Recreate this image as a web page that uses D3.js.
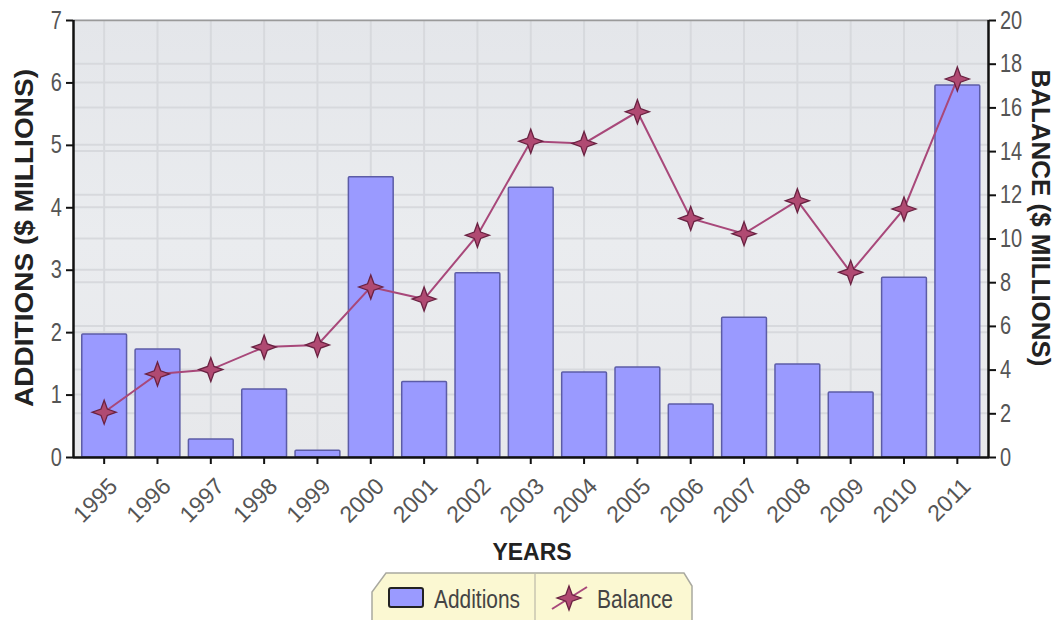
<!DOCTYPE html>
<html><head><meta charset="utf-8">
<script src="https://cdn.jsdelivr.net/npm/d3@7"></script>
<style>body{margin:0;background:#fff}svg{display:block}</style>
</head><body>
<script>
const years = ["1995","1996","1997","1998","1999","2000","2001","2002","2003","2004","2005","2006","2007","2008","2009","2010","2011"];
const additions = [1.97,1.73,0.29,1.09,0.11,4.49,1.21,2.95,4.32,1.36,1.44,0.85,2.24,1.49,1.04,2.88,5.96];
const balance = [2.05,3.8,4.0,5.03,5.13,7.78,7.23,10.15,14.45,14.35,15.8,10.92,10.22,11.73,8.45,11.35,17.3];
const leftTicks = [0,1,2,3,4,5,6,7];
const rightTicks = [0,2,4,6,8,10,12,14,16,18,20];

const W=1058,H=620;
const L=73,R=989,T=20,B=457;
const svg=d3.select("body").append("svg").attr("width",W).attr("height",H);
const font="'Liberation Sans', Arial, sans-serif";

function squeeze(sel,k){
  sel.each(function(){const w=this.getComputedTextLength();d3.select(this).attr("textLength",w*k).attr("lengthAdjust","spacingAndGlyphs");});
}

const x=d3.scaleBand().domain(years).range([77.5,984]).paddingInner(0.16).paddingOuter(0.08);
const yL=d3.scaleLinear().domain([0,7]).range([B,T]);
const yR=d3.scaleLinear().domain([0,20]).range([B,T]);

// plot background
const defs=svg.append("defs");
const g1=defs.append("linearGradient").attr("id","bg").attr("x1","0").attr("y1","0").attr("x2","0").attr("y2","1");
g1.append("stop").attr("offset","0").attr("stop-color","#e4e6ea");
g1.append("stop").attr("offset","0.5").attr("stop-color","#eaecef");
g1.append("stop").attr("offset","1").attr("stop-color","#e7e8eb");
svg.append("rect").attr("x",L).attr("y",T).attr("width",R-L).attr("height",B-T).attr("fill","url(#bg)");

// grid
const grid=svg.append("g").attr("stroke","#d7d9dd").attr("stroke-width",2);
grid.selectAll(".gl").data(leftTicks).join("line").attr("x1",L).attr("x2",R).attr("y1",d=>yL(d)).attr("y2",d=>yL(d));
grid.selectAll(".gr").data(rightTicks).join("line").attr("x1",L).attr("x2",R).attr("y1",d=>yR(d)).attr("y2",d=>yR(d));
grid.selectAll(".gv").data(years).join("line").attr("x1",d=>x(d)+x.bandwidth()/2).attr("x2",d=>x(d)+x.bandwidth()/2).attr("y1",T).attr("y2",B);
svg.append("line").attr("x1",L).attr("x2",R).attr("y1",T+0.5).attr("y2",T+0.5).attr("stroke","#9a9a9a").attr("stroke-width",1.5);

// bars
svg.append("g").selectAll("rect").data(years).join("rect")
  .attr("x",d=>x(d)).attr("width",x.bandwidth())
  .attr("y",(d,i)=>yL(additions[i])).attr("height",(d,i)=>B-yL(additions[i]))
  .attr("fill","#9a9aff").attr("stroke","#5c5ca6").attr("stroke-width",1.5).attr("rx",1);

// line
const cx=d=>x(d)+x.bandwidth()/2;
const line=d3.line().x((d,i)=>cx(years[i])).y(d=>yR(d));
svg.append("path").datum(balance).attr("d",line).attr("fill","none").attr("stroke","#a8487a").attr("stroke-width",2);

function starPath(r,ri){
  const pts=[];
  for(let k=0;k<8;k++){const a=-Math.PI/2+k*Math.PI/4;const rr=k%2===0?r:ri;pts.push([Math.cos(a)*rr,Math.sin(a)*rr]);}
  return "M"+pts.map(p=>p.join(",")).join("L")+"Z";
}
const sp=starPath(12,4.5);
svg.append("g").selectAll("path").data(balance).join("path")
  .attr("d",sp).attr("transform",(d,i)=>`translate(${cx(years[i])},${yR(d)})`)
  .attr("fill","#b04a72").attr("stroke","#6a2242").attr("stroke-width",1.3);

// axes
const axL=svg.append("g").attr("transform",`translate(${L},0)`)
  .call(d3.axisLeft(yL).tickValues(leftTicks).tickSize(7).tickPadding(4).tickFormat(d3.format("d")));
const axR=svg.append("g").attr("transform",`translate(${R},0)`)
  .call(d3.axisRight(yR).tickValues(rightTicks).tickSize(7).tickPadding(4).tickFormat(d3.format("d")));
const axB=svg.append("g").attr("transform",`translate(0,${B})`)
  .call(d3.axisBottom(x).tickSize(7).tickSizeOuter(0));
axB.select(".domain").attr("d",`M${L},0.5H${R}`);
[axL,axR,axB].forEach(a=>{
  a.select(".domain").attr("stroke","#111").attr("stroke-width",2.5);
  a.selectAll(".tick line").attr("stroke","#111").attr("stroke-width",2);
  a.selectAll("text").attr("font-family",font).attr("fill","#555").attr("font-size",25);
});
squeeze(axL.selectAll("text"),0.8);
squeeze(axR.selectAll("text"),0.8);
axL.select(".domain").attr("d",`M0.5,${B}V${T}`);
axR.select(".domain").attr("d",`M-0.5,${B}V${T}`);
axB.selectAll("text").attr("font-size",23).attr("text-anchor","end")
  .attr("transform","translate(9,25) rotate(-45)").attr("y",0).attr("dy","0.35em");

// titles
svg.append("text").attr("transform","translate(33,238) rotate(-90)").attr("text-anchor","middle")
  .attr("font-family",font).attr("font-weight","bold").attr("font-size",25).attr("fill","#222")
  .attr("textLength",338).attr("lengthAdjust","spacingAndGlyphs").text("ADDITIONS ($ MILLIONS)");
svg.append("text").attr("transform","translate(1032,218) rotate(90)").attr("text-anchor","middle")
  .attr("font-family",font).attr("font-weight","bold").attr("font-size",25).attr("fill","#222")
  .attr("textLength",297).attr("lengthAdjust","spacingAndGlyphs").text("BALANCE ($ MILLIONS)");
svg.append("text").attr("x",532).attr("y",560).attr("text-anchor","middle")
  .attr("font-family",font).attr("font-weight","bold").attr("font-size",23).attr("fill","#222").text("YEARS");

// legend
const lg=svg.append("g");
lg.append("path").attr("d","M386,573 L684,573 L692,586 L692,625 L372,625 L372,592 Z")
  .attr("fill","#fbf8d2").attr("stroke","#a9a9a0").attr("stroke-width",1.5);
lg.append("line").attr("x1",535).attr("x2",535).attr("y1",574).attr("y2",620).attr("stroke","#c8c6b0").attr("stroke-width",1.5);
lg.append("rect").attr("x",389).attr("y",588).attr("width",34).attr("height",19).attr("rx",2)
  .attr("fill","#9a9aff").attr("stroke","#222").attr("stroke-width",2);
const t1=lg.append("text").attr("x",434).attr("y",608).attr("font-family",font).attr("font-size",25).attr("fill","#444").text("Additions");
lg.append("line").attr("x1",552).attr("y1",609).attr("x2",587).attr("y2",587).attr("stroke","#a8487a").attr("stroke-width",2);
lg.append("path").attr("d",starPath(12,4.5)).attr("transform","translate(569,598)")
  .attr("fill","#b04a72").attr("stroke","#6a2242").attr("stroke-width",1.3);
const t2=lg.append("text").attr("x",597).attr("y",608).attr("font-family",font).attr("font-size",25).attr("fill","#444").text("Balance");
t1.attr("textLength",86).attr("lengthAdjust","spacingAndGlyphs");
t2.attr("textLength",76).attr("lengthAdjust","spacingAndGlyphs");
</script>
</body></html>
